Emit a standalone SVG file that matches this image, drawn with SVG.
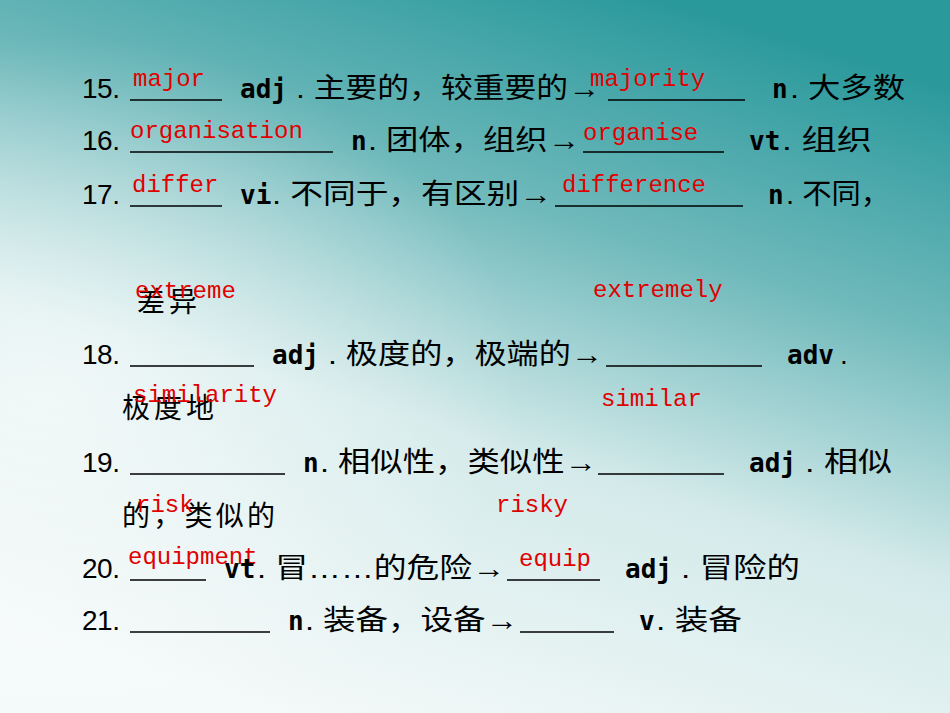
<svg xmlns="http://www.w3.org/2000/svg" width="950" height="713" viewBox="0 0 950 713">
<defs>
<linearGradient id="bg" x1="0.7" y1="0" x2="0.3" y2="1">
<stop offset="0" stop-color="#2a999c"/>
<stop offset="0.3" stop-color="#6fb9bb"/>
<stop offset="0.6" stop-color="#d4eaea"/>
<stop offset="1" stop-color="#f4f9f9"/>
</linearGradient>
<radialGradient id="wh" cx="0.05" cy="0.55" r="0.5">
<stop offset="0" stop-color="#ffffff" stop-opacity="0.6"/>
<stop offset="1" stop-color="#ffffff" stop-opacity="0"/>
</radialGradient>
</defs>
<style>
.t{font-family:"Liberation Sans","Noto Sans CJK SC",sans-serif;font-size:28px;fill:#000}
.b{font-family:"DejaVu Sans Mono","Liberation Mono",monospace;font-weight:bold;font-size:26px;fill:#000}
.r{font-family:"Liberation Mono","DejaVu Sans Mono",monospace;font-size:24px;fill:#e00000}
.u{stroke:#000;stroke-width:1.6}
</style>
<rect width="950" height="713" fill="url(#bg)"/>
<rect width="950" height="713" fill="url(#wh)"/>
<g id="row15">
<text class="t" x="82" y="98" textLength="38">15.</text><line class="u" x1="130" y1="100" x2="222" y2="100"/>
<text class="r" x="133" y="86">major</text>
<text class="b" x="240" y="98">adj</text><text class="t" x="296" y="98" textLength="304" lengthAdjust="spacingAndGlyphs">. 主要的，较重要的→</text>
<line class="u" x1="608" y1="100" x2="745" y2="100"/><text class="r" x="590" y="86">majority</text>
<text class="b" x="772" y="98">n</text><text class="t" x="790" y="98" textLength="115" lengthAdjust="spacingAndGlyphs">. 大多数</text>
</g>
<g id="row16">
<text class="t" x="82" y="150" textLength="38">16.</text><line class="u" x1="130" y1="152" x2="333" y2="152"/>
<text class="r" x="130" y="138">organisation</text>
<text class="b" x="351" y="150">n</text><text class="t" x="368" y="150" textLength="212" lengthAdjust="spacingAndGlyphs">. 团体，组织→</text>
<line class="u" x1="583" y1="152" x2="724" y2="152"/><text class="r" x="583" y="140">organise</text>
<text class="b" x="749" y="150">vt</text><text class="t" x="782" y="150" textLength="90" lengthAdjust="spacingAndGlyphs">. 组织</text>
</g>
<g id="row17">
<text class="t" x="82" y="204" textLength="38">17.</text><line class="u" x1="130" y1="206" x2="222" y2="206"/>
<text class="r" x="132" y="192">differ</text>
<text class="b" x="240" y="204">vi</text><text class="t" x="272" y="204" textLength="280" lengthAdjust="spacingAndGlyphs">. 不同于，有区别→</text>
<line class="u" x1="555" y1="206" x2="743" y2="206"/><text class="r" x="562" y="192">difference</text>
<text class="b" x="768" y="204">n</text><text class="t" x="786" y="204" textLength="104" lengthAdjust="spacingAndGlyphs">. 不同，</text>
<text class="t" x="137" y="312" textLength="60">差异</text>
</g>
<g id="row18">
<text class="r" x="135" y="298">extreme</text><text class="r" x="593" y="297">extremely</text>
<text class="t" x="82" y="364" textLength="38">18.</text><line class="u" x1="130" y1="366" x2="254" y2="366"/>
<text class="b" x="272" y="364">adj</text><text class="t" x="328" y="364" textLength="275" lengthAdjust="spacingAndGlyphs">. 极度的，极端的→</text>
<line class="u" x1="606" y1="366" x2="762" y2="366"/>
<text class="b" x="787" y="364">adv</text><text class="t" x="840" y="364">.</text>
<text class="t" x="122" y="418" textLength="92">极度地</text>
</g>
<g id="row19">
<text class="r" x="133" y="402">similarity</text><text class="r" x="601" y="406">similar</text>
<text class="t" x="82" y="472" textLength="38">19.</text><line class="u" x1="130" y1="474" x2="285" y2="474"/>
<text class="b" x="303" y="472">n</text><text class="t" x="320" y="472" textLength="277" lengthAdjust="spacingAndGlyphs">. 相似性，类似性→</text>
<line class="u" x1="598" y1="474" x2="724" y2="474"/>
<text class="b" x="749" y="472">adj</text><text class="t" x="805" y="472" textLength="87" lengthAdjust="spacingAndGlyphs">. 相似</text>
<text class="t" x="122" y="526" textLength="153">的，类似的</text>
</g>
<g id="row20">
<text class="r" x="136" y="512">risk</text><text class="r" x="496" y="512">risky</text>
<text class="t" x="82" y="578" textLength="38">20.</text><line class="u" x1="130" y1="580" x2="206" y2="580"/>
<text class="r" x="128" y="564">equipment</text>
<text class="b" x="224" y="578">vt</text><text class="t" x="257" y="578" textLength="248" lengthAdjust="spacingAndGlyphs">. 冒……的危险→</text>
<line class="u" x1="507" y1="580" x2="600" y2="580"/><text class="r" x="519" y="566">equip</text>
<text class="b" x="625" y="578">adj</text><text class="t" x="681" y="578" textLength="119" lengthAdjust="spacingAndGlyphs">. 冒险的</text>
</g>
<g id="row21">
<text class="t" x="82" y="630" textLength="38">21.</text><line class="u" x1="130" y1="632" x2="270" y2="632"/>
<text class="b" x="288" y="630">n</text><text class="t" x="305" y="630" textLength="213" lengthAdjust="spacingAndGlyphs">. 装备，设备→</text>
<line class="u" x1="520" y1="632" x2="614" y2="632"/>
<text class="b" x="639" y="630">v</text><text class="t" x="656" y="630" textLength="86" lengthAdjust="spacingAndGlyphs">. 装备</text>
</g>
</svg>
